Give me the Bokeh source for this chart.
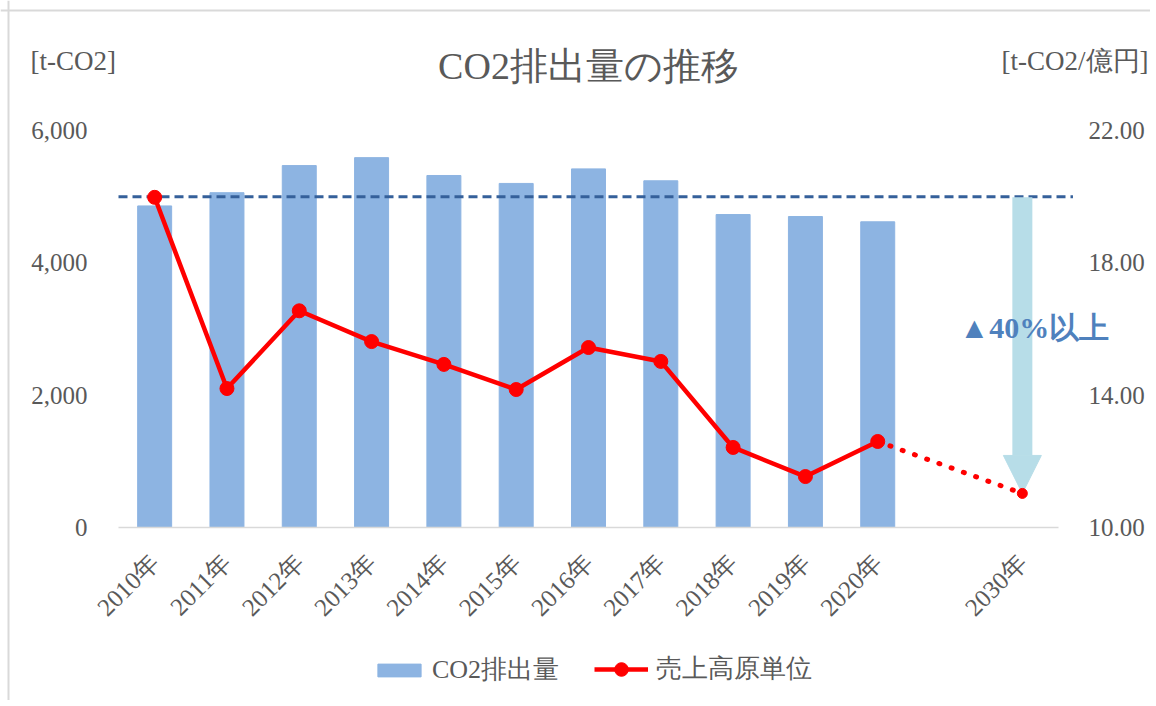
import math
from bokeh.plotting import figure
from bokeh.models import (Range1d, LinearAxis, FixedTicker, NumeralTickFormatter, Span,
                          Arrow, NormalHead, Label, Legend, LegendItem, ColumnDataSource)
from bokeh.embed import file_html
from bokeh.resources import INLINE

# ---- data ----
years = ["2010年", "2011年", "2012年", "2013年", "2014年", "2015年",
         "2016年", "2017年", "2018年", "2019年", "2020年"]
target_year = "2030年"
co2 = [4860, 5060, 5470, 5590, 5320, 5200, 5420, 5240, 4730, 4700, 4620]
intensity = [19.98, 14.20, 16.55, 15.62, 14.93, 14.17, 15.44, 15.02, 12.42, 11.54, 12.60]
intensity_2030 = 11.03
co2_target_line = 5000
reduction_label = "▲40%以上"
left_ticks = [0, 2000, 4000, 6000]
right_ticks = [10, 14, 18, 22]
title_text = "CO2排出量の推移"
left_unit = "[t-CO2]"
right_unit = "[t-CO2/億円]"
bar_name = "CO2排出量"
line_name = "売上高原単位"

FONT = "Liberation Serif"
GRAY = "#595959"
BAR = "#8DB4E2"
RED = "#FF0000"
ARROW = "#B7DDE8"

# ---- layout (pixels) ----
W, H = 1150, 700
PL, PR, PT, PB = 118, 1058, 130, 527   # plot area edges on the canvas

xs = list(range(len(years)))
x2030 = len(years) + 1  # one empty slot between 2020 and 2030
x_lo, x_hi = -0.5, x2030 + 0.5

# ranges span the whole canvas so nothing gets clipped; axes sit at fixed locations
sx = (PR - PL) / (x_hi - x_lo)
xr = Range1d(x_lo - PL / sx, x_hi + (W - PR) / sx)
y_lo, y_hi = left_ticks[0], left_ticks[-1]
sy = (PB - PT) / (y_hi - y_lo)
yr = Range1d(y_lo - (H - PB) / sy, y_hi + PT / sy)
r_lo, r_hi = right_ticks[0], right_ticks[-1]
sr = (PB - PT) / (r_hi - r_lo)
rr = Range1d(r_lo - (H - PB) / sr, r_hi + PT / sr)

p = figure(width=W, height=H, output_backend="svg", toolbar_location=None,
           x_range=xr, y_range=yr, min_border=0, outline_line_color=None)
p.extra_y_ranges = {"right": rr}
p.grid.visible = False

# chart border (top / left)
p.add_layout(Span(location=8, dimension="height", location_units="screen",
                  line_color="#D9D9D9", line_width=2))
p.add_layout(Span(location=H - 10, dimension="width", location_units="screen",
                  line_color="#D9D9D9", line_width=2))

# axes
xa = p.xaxis[0]
xa.fixed_location = y_lo
xa.bounds = (x_lo, x_hi)
xa.ticker = FixedTicker(ticks=xs + [x2030])
xa.major_label_overrides = {**{i: y for i, y in enumerate(years)}, x2030: target_year}
xa.major_label_orientation = math.pi / 4
xa.major_tick_line_color = None
xa.minor_tick_line_color = None
xa.axis_line_color = "#D9D9D9"
xa.axis_line_width = 1.5
xa.major_label_text_font = FONT
xa.major_label_text_font_size = "25px"
xa.major_label_text_color = GRAY
xa.major_label_standoff = 25

ya = p.yaxis[0]
ya.fixed_location = x_lo
ya.ticker = FixedTicker(ticks=left_ticks)
ya.formatter = NumeralTickFormatter(format="0,0")
ya.major_tick_line_color = None
ya.minor_tick_line_color = None
ya.axis_line_color = None
ya.major_label_text_font = FONT
ya.major_label_text_font_size = "25px"
ya.major_label_text_color = GRAY
ya.major_label_standoff = 25

ra = LinearAxis(y_range_name="right", fixed_location=x_hi, ticker=FixedTicker(ticks=right_ticks),
                formatter=NumeralTickFormatter(format="0.00"))
ra.major_tick_line_color = None
ra.minor_tick_line_color = None
ra.axis_line_color = None
ra.major_label_text_font = FONT
ra.major_label_text_font_size = "25px"
ra.major_label_text_color = GRAY
ra.major_label_standoff = 24
p.add_layout(ra, "right")

# bars
bar_src = ColumnDataSource(dict(x=xs, top=co2))
bars = p.vbar(x="x", top="top", width=0.47, source=bar_src, fill_color=BAR, line_color=BAR)

# target dashed line
p.segment(x0=[x_lo], y0=[co2_target_line], x1=[x_hi + 0.2], y1=[co2_target_line],
          line_color="#35609A", line_width=3, line_dash="9 5")

# reduction arrow
arrow = Arrow(x_start=x2030, y_start=intensity[0], x_end=x2030, y_end=intensity_2030,
              y_range_name="right", line_width=20, line_color=ARROW,
              end=NormalHead(size=38, fill_color=ARROW, line_color=ARROW),
              level="glyph")
p.add_layout(arrow)

# intensity line
line_src = ColumnDataSource(dict(x=xs, y=intensity))
ln = p.line(x="x", y="y", source=line_src, y_range_name="right", line_color=RED,
            line_width=4.5, level="annotation")
mk = p.scatter(x="x", y="y", source=line_src, y_range_name="right", size=14,
               fill_color=RED, line_color=RED, level="annotation")
fut_src = ColumnDataSource(dict(x=[xs[-1], x2030], y=[intensity[-1], intensity_2030]))
p.line(x="x", y="y", source=fut_src, y_range_name="right", line_color=RED,
       line_width=5, line_dash="1 12", line_cap="round", level="annotation")
p.scatter(x=[x2030], y=[intensity_2030], y_range_name="right", size=10,
          fill_color=RED, line_color=RED, level="annotation")

# text labels
p.add_layout(Label(x=x2030, y=16.05, y_range_name="right", x_offset=12, text=reduction_label,
                   text_align="center", text_baseline="middle", text_font=FONT,
                   text_font_size="30px", text_font_style="bold", text_color="#4F81BD"))
p.add_layout(Label(x=588, y=H - 65, x_units="screen", y_units="screen", text=title_text,
                   text_align="center", text_baseline="middle", text_font=FONT,
                   text_font_size="38px", text_color=GRAY))
p.add_layout(Label(x=30, y=H - 60, x_units="screen", y_units="screen", text=left_unit,
                   text_align="left", text_baseline="middle", text_font=FONT,
                   text_font_size="27px", text_color=GRAY))
p.add_layout(Label(x=1148, y=H - 60, x_units="screen", y_units="screen", text=right_unit,
                   text_align="right", text_baseline="middle", text_font=FONT,
                   text_font_size="27px", text_color=GRAY))

leg_style = dict(orientation="horizontal", border_line_color=None, background_fill_alpha=0,
                 label_text_font=FONT, label_text_font_size="26px", label_text_color=GRAY,
                 glyph_width=54, padding=6, margin=0)
legend_bar = Legend(items=[LegendItem(label=bar_name, renderers=[bars])],
                    location=(372, 13), glyph_height=16, label_standoff=6, **leg_style)
legend_line = Legend(items=[LegendItem(label=line_name, renderers=[ln, mk])],
                     location=(594, 14), glyph_height=34, label_standoff=8, **leg_style)
p.add_layout(legend_bar)
p.add_layout(legend_line)

open("out.html", "w").write(file_html(p, INLINE))
